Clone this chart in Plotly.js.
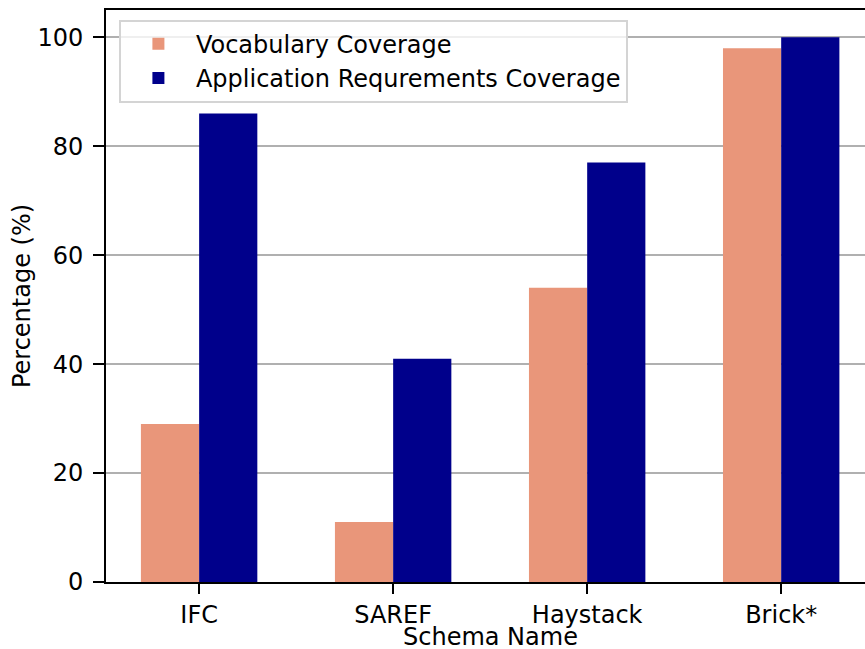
<!DOCTYPE html>
<html>
<head>
<meta charset="utf-8">
<script src="https://cdn.plot.ly/plotly-3.0.1.min.js"></script>
<style>html,body{margin:0;padding:0;background:#fff;}#chart{width:865px;height:649px;}</style>
</head>
<body>
<div id="chart"></div>
<script>
const categories = ["IFC", "SAREF", "Haystack", "Brick*"];
const vocabularyCoverage = [29, 11, 54, 98];
const applicationCoverage = [86, 41, 77, 100];
const seriesNames = ["Vocabulary Coverage", "Application Requrements Coverage"];
const yTicks = [0, 20, 40, 60, 80, 100];
const xTitle = "Schema Name";
const yTitle = "Percentage (%)";

const font = {family: "DejaVu Sans, sans-serif", size: 24, color: "#000"};

const traces = [
  {type: "bar", name: seriesNames[0], x: categories, y: vocabularyCoverage,
   marker: {color: "#E9967A", line: {width: 0}}},
  {type: "bar", name: seriesNames[1], x: categories, y: applicationCoverage,
   marker: {color: "#00008B", line: {width: 0}}}
];

const layout = {
  width: 865, height: 649,
  margin: {l: 106, r: 0, t: 10, b: 67, pad: 0},
  paper_bgcolor: "#fff", plot_bgcolor: "#fff",
  font: font,
  barmode: "group", bargap: 0.4, bargroupgap: 0,
  showlegend: true,
  legend: {x: 0.017, y: 0.983, xanchor: "left", yanchor: "top",
    bgcolor: "rgba(255,255,255,0.8)", bordercolor: "#d4d4d4", borderwidth: 2,
    font: font, tracegroupgap: 0, itemwidth: 65},
  xaxis: {type: "category", range: [-0.48, 3.432], showgrid: false, zeroline: false,
    showline: true, linecolor: "#000", linewidth: 2, mirror: true,
    ticks: "outside", ticklen: 10, tickwidth: 2, tickcolor: "#000", ticklabelstandoff: 0,
    tickfont: font, fixedrange: true},
  yaxis: {range: [0, 105], tickvals: yTicks, showgrid: true, gridcolor: "#b0b0b0", gridwidth: 1.5,
    zeroline: false, showline: true, linecolor: "#000", linewidth: 2,
    ticks: "outside", ticklen: 11, tickwidth: 2, tickcolor: "#000", ticklabelstandoff: 5,
    tickfont: font, title: {text: yTitle, font: font, standoff: 0}, fixedrange: true},
  annotations: [
    {text: xTitle, xref: "x", x: 1.5, yref: "paper", y: 0, yanchor: "middle",
     yshift: -55, showarrow: false, font: font, borderpad: 0}
  ]
};

Plotly.newPlot("chart", traces, layout, {staticPlot: true, displayModeBar: false});
</script>
</body>
</html>
